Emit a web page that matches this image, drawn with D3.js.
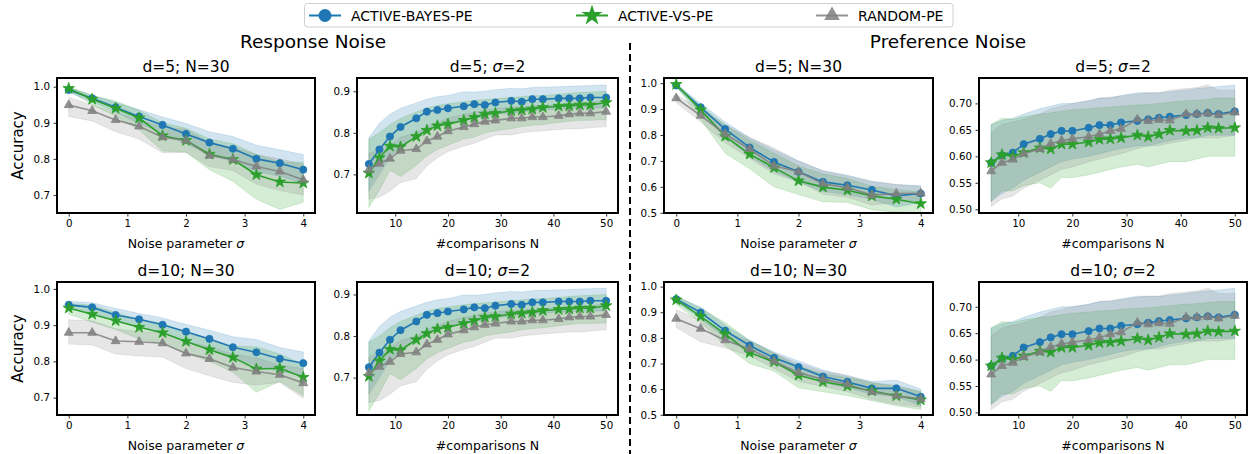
<!DOCTYPE html>
<html><head><meta charset="utf-8">
<script src="https://cdn.jsdelivr.net/npm/d3@7"></script>
<style>body{margin:0;background:#fff}svg{display:block}text{font-family:"DejaVu Sans",sans-serif;fill:#000}</style>
</head><body><svg id="c" width="1249" height="454"></svg>
<script>
const seriesNames = ["ACTIVE-BAYES-PE","ACTIVE-VS-PE","RANDOM-PE"];
const noiseX = [0,0.4,0.8,1.2,1.6,2.0,2.4,2.8,3.2,3.6,4.0];
const compX = [5,7,9,11,14,16,18,20,23,25,27,29,32,34,36,38,41,43,45,47,50];
const noiseTicks = [0,1,2,3,4];
const compTicks = [10,20,30,40,50];
const accTicksA = [0.7,0.8,0.9,1.0];
const accTicksB = [0.7,0.8,0.9];
const accTicksC = [0.5,0.6,0.7,0.8,0.9,1.0];
const accTicksD = [0.50,0.55,0.60,0.65,0.70];

// Response noise, d=5, N=30
const rn5Bayes   = [0.991,0.968,0.943,0.917,0.894,0.869,0.845,0.828,0.800,0.788,0.770];
const rn5BayesHi = [0.998,0.976,0.956,0.936,0.916,0.898,0.875,0.862,0.838,0.825,0.812];
const rn5BayesLo = [0.984,0.958,0.930,0.898,0.870,0.842,0.812,0.792,0.765,0.752,0.732];
const rn5Vs      = [0.995,0.965,0.940,0.913,0.864,0.851,0.813,0.798,0.756,0.736,0.733];
const rn5VsHi    = [1.000,0.976,0.960,0.935,0.900,0.885,0.855,0.842,0.812,0.792,0.790];
const rn5VsLo    = [0.990,0.950,0.918,0.880,0.822,0.818,0.770,0.738,0.688,0.660,0.680];
const rn5Rand    = [0.949,0.933,0.908,0.890,0.860,0.851,0.809,0.798,0.779,0.765,0.742];
const rn5RandHi  = [0.970,0.950,0.928,0.908,0.888,0.882,0.845,0.832,0.812,0.800,0.785];
const rn5RandLo  = [0.917,0.905,0.875,0.855,0.817,0.818,0.778,0.768,0.730,0.712,0.700];

// Response noise, d=10, N=30
const rn10Bayes   = [0.956,0.949,0.928,0.916,0.901,0.882,0.862,0.839,0.825,0.807,0.795];
const rn10BayesHi = [0.966,0.962,0.946,0.932,0.920,0.902,0.886,0.868,0.860,0.838,0.826];
const rn10BayesLo = [0.944,0.934,0.910,0.896,0.878,0.856,0.832,0.806,0.788,0.772,0.762];
const rn10Vs      = [0.947,0.930,0.912,0.894,0.879,0.855,0.832,0.811,0.779,0.781,0.756];
const rn10VsHi    = [0.960,0.955,0.935,0.915,0.905,0.880,0.860,0.842,0.840,0.820,0.792];
const rn10VsLo    = [0.930,0.908,0.888,0.862,0.850,0.822,0.800,0.770,0.715,0.745,0.705];
const rn10Rand    = [0.879,0.879,0.856,0.854,0.850,0.822,0.807,0.783,0.772,0.763,0.740];
const rn10RandHi  = [0.915,0.912,0.890,0.882,0.880,0.855,0.840,0.820,0.810,0.790,0.780];
const rn10RandLo  = [0.848,0.845,0.820,0.815,0.812,0.780,0.760,0.742,0.735,0.742,0.698];

// Response noise, sigma=2 (vs N)
const rcBayes   = [0.725,0.760,0.791,0.814,0.835,0.851,0.855,0.859,0.864,0.869,0.867,0.873,0.877,0.875,0.881,0.881,0.883,0.883,0.883,0.885,0.885];
const rcBayesHi = [0.788,0.823,0.845,0.859,0.872,0.881,0.887,0.890,0.899,0.898,0.900,0.904,0.907,0.906,0.909,0.910,0.911,0.912,0.913,0.914,0.915];
const rcBayesLo = [0.660,0.700,0.740,0.768,0.792,0.810,0.818,0.825,0.830,0.836,0.838,0.844,0.848,0.850,0.853,0.855,0.858,0.858,0.860,0.860,0.860];
const rcVs      = [0.703,0.740,0.768,0.766,0.791,0.806,0.817,0.821,0.830,0.837,0.845,0.847,0.853,0.855,0.857,0.861,0.864,0.865,0.867,0.867,0.873];
const rcVsHi    = [0.785,0.800,0.820,0.835,0.850,0.860,0.866,0.870,0.875,0.878,0.880,0.882,0.885,0.887,0.889,0.890,0.893,0.895,0.897,0.898,0.900];
const rcVsLo    = [0.620,0.662,0.710,0.695,0.722,0.745,0.760,0.770,0.785,0.790,0.800,0.805,0.810,0.815,0.818,0.820,0.825,0.828,0.830,0.830,0.832];
const rcRand    = [0.711,0.726,0.738,0.757,0.761,0.780,0.791,0.804,0.814,0.821,0.827,0.830,0.835,0.835,0.838,0.838,0.841,0.845,0.847,0.847,0.851];
const rcRandHi  = [0.750,0.760,0.772,0.790,0.800,0.815,0.825,0.835,0.845,0.850,0.855,0.858,0.862,0.863,0.865,0.866,0.868,0.870,0.872,0.873,0.878];
const rcRandLo  = [0.640,0.645,0.660,0.680,0.690,0.720,0.740,0.755,0.768,0.775,0.785,0.795,0.795,0.800,0.803,0.805,0.808,0.810,0.810,0.812,0.815];

// Preference noise, d=5, N=30
const pn5Bayes   = [0.991,0.907,0.823,0.752,0.696,0.658,0.619,0.606,0.588,0.565,0.574];
const pn5BayesHi = [0.998,0.922,0.850,0.790,0.742,0.700,0.662,0.645,0.622,0.608,0.605];
const pn5BayesLo = [0.985,0.890,0.792,0.718,0.660,0.620,0.582,0.570,0.552,0.522,0.540];
const pn5Vs      = [0.995,0.897,0.795,0.726,0.674,0.623,0.599,0.587,0.565,0.552,0.535];
const pn5VsHi    = [1.000,0.912,0.840,0.780,0.730,0.680,0.650,0.632,0.602,0.590,0.580];
const pn5VsLo    = [0.990,0.860,0.730,0.670,0.600,0.570,0.542,0.540,0.512,0.502,0.500];
const pn5Rand    = [0.942,0.875,0.804,0.746,0.681,0.658,0.612,0.597,0.568,0.574,0.575];
const pn5RandHi  = [0.955,0.900,0.840,0.790,0.750,0.700,0.662,0.642,0.620,0.610,0.600];
const pn5RandLo  = [0.925,0.850,0.770,0.710,0.650,0.620,0.572,0.560,0.530,0.540,0.550];

// Preference noise, d=10, N=30
const pn10Bayes   = [0.951,0.899,0.828,0.770,0.722,0.686,0.649,0.628,0.603,0.603,0.570];
const pn10BayesHi = [0.960,0.920,0.850,0.790,0.745,0.710,0.675,0.650,0.630,0.635,0.600];
const pn10BayesLo = [0.940,0.875,0.800,0.745,0.700,0.660,0.625,0.605,0.580,0.570,0.535];
const pn10Vs      = [0.948,0.884,0.815,0.742,0.707,0.654,0.629,0.612,0.593,0.574,0.558];
const pn10VsHi    = [0.965,0.915,0.860,0.790,0.740,0.690,0.660,0.645,0.625,0.610,0.590];
const pn10VsLo    = [0.930,0.860,0.770,0.700,0.670,0.605,0.590,0.575,0.555,0.535,0.520];
const pn10Rand    = [0.875,0.836,0.791,0.757,0.709,0.664,0.638,0.619,0.589,0.574,0.561];
const pn10RandHi  = [0.910,0.870,0.820,0.790,0.740,0.700,0.670,0.655,0.625,0.615,0.590];
const pn10RandLo  = [0.840,0.785,0.760,0.730,0.680,0.630,0.610,0.590,0.560,0.540,0.530];

// Preference noise, sigma=2 (vs N)
const pcBayes   = [0.588,0.602,0.607,0.623,0.633,0.642,0.648,0.648,0.654,0.659,0.659,0.664,0.667,0.670,0.673,0.675,0.678,0.680,0.682,0.680,0.685];
const pcBayesHi = [0.660,0.668,0.672,0.680,0.690,0.695,0.700,0.700,0.705,0.710,0.710,0.715,0.720,0.720,0.720,0.722,0.725,0.728,0.730,0.732,0.735];
const pcBayesLo = [0.515,0.530,0.540,0.555,0.570,0.580,0.590,0.595,0.600,0.605,0.610,0.615,0.620,0.620,0.625,0.630,0.635,0.635,0.640,0.640,0.640];
const pcVs      = [0.588,0.603,0.600,0.607,0.616,0.614,0.623,0.623,0.627,0.632,0.633,0.635,0.640,0.637,0.642,0.649,0.648,0.649,0.654,0.653,0.654];
const pcVsHi    = [0.660,0.672,0.670,0.675,0.680,0.682,0.685,0.688,0.690,0.692,0.693,0.695,0.697,0.698,0.700,0.702,0.705,0.706,0.708,0.710,0.710];
const pcVsLo    = [0.515,0.535,0.535,0.545,0.550,0.540,0.560,0.560,0.565,0.570,0.575,0.580,0.585,0.580,0.585,0.590,0.590,0.595,0.600,0.600,0.600];
const pcRand    = [0.572,0.588,0.594,0.605,0.614,0.624,0.630,0.633,0.637,0.642,0.648,0.652,0.670,0.667,0.669,0.668,0.680,0.680,0.681,0.678,0.683];
const pcRandHi  = [0.645,0.660,0.665,0.670,0.680,0.690,0.695,0.700,0.705,0.710,0.712,0.714,0.718,0.720,0.720,0.725,0.728,0.730,0.735,0.725,0.725];
const pcRandLo  = [0.505,0.520,0.525,0.540,0.555,0.565,0.575,0.580,0.590,0.595,0.600,0.605,0.615,0.620,0.620,0.625,0.630,0.635,0.635,0.635,0.640];

const mk = (m, lo, hi) => ({mean: m, lo: lo, hi: hi});
const noiseTitle = (d) => [{t: "d=" + d + "; N=30"}];
const compTitle = (d) => [{t: "d=" + d + "; "}, {t: "σ", it: true}, {t: "=2"}];

const cols = [{x0: 57, x1: 315}, {x0: 357, x1: 618}, {x0: 664, x1: 933}, {x0: 979, x1: 1247}];
const rows = [{y0: 78, y1: 213}, {y0: 282, y1: 415}];

const panels = [
  {col: 0, row: 0, title: noiseTitle(5), kind: "noise", ydom: [0.65, 1.024], yt: accTicksA, fmt: ".1f",
   series: [mk(rn5Bayes, rn5BayesLo, rn5BayesHi), mk(rn5Vs, rn5VsLo, rn5VsHi), mk(rn5Rand, rn5RandLo, rn5RandHi)]},
  {col: 1, row: 0, title: compTitle(5), kind: "comp", ydom: [0.607, 0.932], yt: accTicksB, fmt: ".1f",
   series: [mk(rcBayes, rcBayesLo, rcBayesHi), mk(rcVs, rcVsLo, rcVsHi), mk(rcRand, rcRandLo, rcRandHi)]},
  {col: 2, row: 0, title: noiseTitle(5), kind: "noise", ydom: [0.499, 1.02], yt: accTicksC, fmt: ".1f",
   series: [mk(pn5Bayes, pn5BayesLo, pn5BayesHi), mk(pn5Vs, pn5VsLo, pn5VsHi), mk(pn5Rand, pn5RandLo, pn5RandHi)]},
  {col: 3, row: 0, title: compTitle(5), kind: "comp", ydom: [0.493, 0.748], yt: accTicksD, fmt: ".2f",
   series: [mk(pcBayes, pcBayesLo, pcBayesHi), mk(pcVs, pcVsLo, pcVsHi), mk(pcRand, pcRandLo, pcRandHi)]},
  {col: 0, row: 1, title: noiseTitle(10), kind: "noise", ydom: [0.652, 1.019], yt: accTicksA, fmt: ".1f",
   series: [mk(rn10Bayes, rn10BayesLo, rn10BayesHi), mk(rn10Vs, rn10VsLo, rn10VsHi), mk(rn10Rand, rn10RandLo, rn10RandHi)]},
  {col: 1, row: 1, title: compTitle(10), kind: "comp", ydom: [0.61, 0.93], yt: accTicksB, fmt: ".1f",
   series: [mk(rcBayes, rcBayesLo, rcBayesHi), mk(rcVs, rcVsLo, rcVsHi), mk(rcRand, rcRandLo, rcRandHi)]},
  {col: 2, row: 1, title: noiseTitle(10), kind: "noise", ydom: [0.499, 1.018], yt: accTicksC, fmt: ".1f",
   series: [mk(pn10Bayes, pn10BayesLo, pn10BayesHi), mk(pn10Vs, pn10VsLo, pn10VsHi), mk(pn10Rand, pn10RandLo, pn10RandHi)]},
  {col: 3, row: 1, title: compTitle(10), kind: "comp", ydom: [0.495, 0.747], yt: accTicksD, fmt: ".2f",
   series: [mk(pcBayes, pcBayesLo, pcBayesHi), mk(pcVs, pcVsLo, pcVsHi), mk(pcRand, pcRandLo, pcRandHi)]}
];

const colors = ["#1f77b4", "#2ca02c", "#808080"];
const symbols = [d3.symbolCircle, d3.symbolStar, d3.symbolTriangle];
const markerSizes = [40, 40, 34];
const legendSizes = [133, 136, 105];

const svg = d3.select("#c");
const defs = svg.append("defs");

panels.forEach((p, i) => {
  const c = cols[p.col], r = rows[p.row];
  const xs = p.kind === "noise" ? noiseX : compX;
  const xdom = p.kind === "noise" ? [-0.2, 4.2] : [2.75, 52.25];
  const x = d3.scaleLinear().domain(xdom).range([c.x0, c.x1]);
  const y = d3.scaleLinear().domain(p.ydom).range([r.y1, r.y0]);
  defs.append("clipPath").attr("id", "cp" + i).append("rect")
    .attr("x", c.x0).attr("y", r.y0).attr("width", c.x1 - c.x0).attr("height", r.y1 - r.y0);
  const g = svg.append("g");
  const inner = g.append("g").attr("clip-path", "url(#cp" + i + ")");
  p.series.forEach((s, k) => {
    const area = d3.area().x((d, j) => x(xs[j])).y0((d, j) => y(s.lo[j])).y1((d, j) => y(s.hi[j]));
    inner.append("path").datum(s.mean).attr("d", area)
      .attr("fill", colors[k]).attr("fill-opacity", 0.2).attr("stroke", colors[k]).attr("stroke-opacity", 0.2).attr("stroke-width", 0.8);
  });
  p.series.forEach((s, k) => {
    const line = d3.line().x((d, j) => x(xs[j])).y(d => y(d));
    const op = k === 2 ? 0.85 : 1;
    inner.append("path").datum(s.mean).attr("d", line).attr("fill", "none")
      .attr("stroke", colors[k]).attr("stroke-width", 1.6).attr("stroke-opacity", op);
    inner.selectAll(null).data(s.mean).enter().append("path")
      .attr("d", d3.symbol().type(symbols[k]).size(markerSizes[k]))
      .attr("transform", (d, j) => `translate(${x(xs[j])},${y(d)})`)
      .attr("fill", colors[k]).attr("fill-opacity", op)
      .attr("stroke", colors[k]).attr("stroke-width", 0.9).attr("stroke-opacity", op);
  });
  // axes
  const xa = d3.axisBottom(x).tickValues(p.kind === "noise" ? noiseTicks : compTicks)
    .tickSize(3.5).tickPadding(3.5).tickFormat(d3.format("d"));
  const ya = d3.axisLeft(y).tickValues(p.yt).tickSize(3.5).tickPadding(3.5).tickFormat(d3.format(p.fmt));
  const gx = g.append("g").attr("transform", `translate(0,${r.y1})`).call(xa);
  const gy = g.append("g").attr("transform", `translate(${c.x0},0)`).call(ya);
  [gx, gy].forEach(a => {
    a.select(".domain").remove();
    a.selectAll(".tick line").attr("stroke", "#000").attr("stroke-width", 0.8);
    a.selectAll(".tick text").attr("font-family", "DejaVu Sans").attr("font-size", 10.3).attr("fill", "#111");
  });
  // frame
  g.append("rect").attr("x", c.x0).attr("y", r.y0).attr("width", c.x1 - c.x0).attr("height", r.y1 - r.y0)
    .attr("fill", "none").attr("stroke", "#000").attr("stroke-width", 2);
  // title
  const tt = g.append("text").attr("x", (c.x0 + c.x1) / 2).attr("y", r.y0 - 6.5)
    .attr("text-anchor", "middle").attr("font-size", 15.5);
  p.title.forEach(part => tt.append("tspan").text(part.t).attr("font-style", part.it ? "italic" : null));
  // x label
  const xl = g.append("text").attr("x", (c.x0 + c.x1) / 2).attr("y", r.y1 + 35).attr("text-anchor", "middle").attr("font-size", 12.5);
  if (p.kind === "noise") {
    xl.append("tspan").text("Noise parameter ");
    xl.append("tspan").text("σ").attr("font-style", "italic");
  } else {
    xl.text("#comparisons N");
  }
  if (p.col === 0) {
    g.append("text").attr("transform", `translate(23,${(r.y0 + r.y1) / 2})rotate(-90)`)
      .attr("text-anchor", "middle").attr("font-size", 15).text("Accuracy");
  }
});

// section titles
svg.append("text").attr("x", 313).attr("y", 48).attr("text-anchor", "middle").attr("font-size", 18.5).text("Response Noise");
svg.append("text").attr("x", 948).attr("y", 48).attr("text-anchor", "middle").attr("font-size", 18.5).text("Preference Noise");

// dashed divider
svg.append("line").attr("x1", 630).attr("x2", 630).attr("y1", 43).attr("y2", 454)
  .attr("stroke", "#000").attr("stroke-width", 2).attr("stroke-dasharray", "7,4");

// legend
const lg = svg.append("g");
lg.append("rect").attr("x", 304.5).attr("y", 3.5).attr("width", 648.5).attr("height", 23.5).attr("rx", 3)
  .attr("fill", "#fff").attr("stroke", "#d0d0d0").attr("stroke-width", 1);
const legendX = [325, 592, 832];
seriesNames.forEach((name, k) => {
  const cx = legendX[k], cy = 15.5;
  lg.append("line").attr("x1", cx - 16).attr("x2", cx + 16).attr("y1", cy).attr("y2", cy)
    .attr("stroke", colors[k]).attr("stroke-width", 2).attr("stroke-opacity", k === 2 ? 0.85 : 1);
  lg.append("path").attr("d", d3.symbol().type(symbols[k]).size(legendSizes[k]))
    .attr("transform", `translate(${cx},${cy})`).attr("fill", colors[k]).attr("fill-opacity", k === 2 ? 0.85 : 1);
  lg.append("text").attr("x", cx + 26).attr("y", cy + 5).attr("font-size", 14).text(name);
});
</script></body></html>
